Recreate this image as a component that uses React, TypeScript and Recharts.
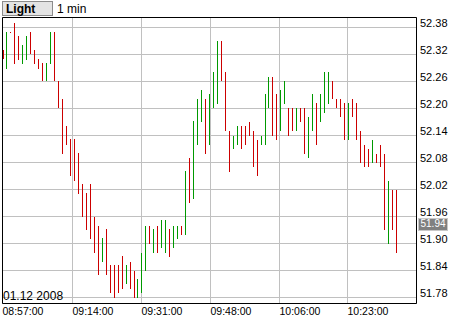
import React from "react";
import {
  ComposedChart,
  Bar,
  XAxis,
  YAxis,
  CartesianGrid,
  ReferenceArea,
  ReferenceLine,
} from "recharts";

// one bar per minute, high / low and direction (1 = up / green, 0 = down / red)
const highs = [
  52.33, 52.37, 52.37, 52.39, 52.361, 52.341, 52.361, 52.37, 52.33, 52.31,
  52.3, 52.3, 52.37, 52.37, 52.26, 52.22, 52.16, 52.132, 52.132, 52.101,
  52.032, 52.012, 52.032, 51.96, 51.94, 51.912, 51.932, 51.852, 51.852, 51.852,
  51.872, 51.852, 51.86, 51.84, 51.821, 51.88, 51.94, 51.94, 51.932, 51.94,
  51.952, 51.952, 51.932, 51.94, 51.94, 51.94, 52.061, 52.091, 52.172, 52.22,
  52.24, 52.22, 52.232, 52.28, 52.35, 52.35, 52.28, 52.15, 52.14, 52.16,
  52.16, 52.16, 52.17, 52.15, 52.13, 52.14, 52.232, 52.27, 52.27, 52.232,
  52.24, 52.26, 52.2, 52.2, 52.2, 52.2, 52.2, 52.18, 52.232, 52.212,
  52.232, 52.28, 52.28, 52.26, 52.22, 52.22, 52.212, 52.212, 52.22, 52.212,
  52.15, 52.12, 52.11, 52.13, 52.1, 52.12, 52.1, 52.04, 52.02, 52.02,
];
const lows = [
  52.309, 52.288, 52.368, 52.299, 52.308, 52.299, 52.308, 52.32, 52.299, 52.288,
  52.26, 52.26, 52.299, 52.26, 52.2, 52.1, 52.12, 52.05, 52.04, 52.01,
  51.96, 51.93, 51.91, 51.88, 51.83, 51.86, 51.83, 51.79, 51.78, 51.79,
  51.8, 51.81, 51.8, 51.78, 51.78, 51.79, 51.84, 51.9, 51.88, 51.88,
  51.89, 51.88, 51.87, 51.89, 51.91, 51.92, 51.92, 51.99, 52.0, 52.12,
  52.17, 52.1, 52.12, 52.2, 52.21, 52.26, 52.15, 52.06, 52.11, 52.12,
  52.11, 52.12, 52.14, 52.07, 52.05, 52.12, 52.12, 52.2, 52.14, 52.13,
  52.15, 52.21, 52.14, 52.15, 52.15, 52.17, 52.1, 52.09, 52.15, 52.12,
  52.17, 52.19, 52.21, 52.22, 52.2, 52.18, 52.13, 52.13, 52.18, 52.13,
  52.08, 52.07, 52.07, 52.08, 52.08, 52.07, 51.93, 51.9, 51.93, 51.88,
];
const ups = [
  0, 1, 0, 0, 0, 1, 1, 0, 0, 0,
  0, 1, 1, 0, 0, 0, 0, 0, 0, 0,
  0, 0, 0, 0, 0, 1, 0, 0, 0, 0,
  0, 1, 0, 0, 1, 1, 1, 0, 1, 0,
  1, 1, 0, 1, 1, 0, 1, 0, 1, 1,
  1, 0, 1, 1, 1, 0, 0, 0, 1, 1,
  0, 0, 0, 0, 0, 1, 1, 1, 0, 0,
  1, 1, 0, 0, 1, 0, 0, 1, 1, 0,
  1, 1, 1, 0, 0, 0, 0, 1, 0, 0,
  0, 0, 0, 1, 0, 0, 0, 1, 0, 0,
];

const timeTicks = [-0.252, 17.382, 34.763, 52.145, 69.527, 86.657];
const timeLabels = ["08:57:00", "09:14:00", "09:31:00", "09:48:00", "10:06:00", "10:23:00"];
const priceTicks = [51.78, 51.84, 51.9, 51.96, 52.02, 52.08, 52.14, 52.2, 52.26, 52.32, 52.38];
const lastPrice = 51.94;
const dateLabel = "01.12 2008";
const symbolName = "Light";
const periodName = "1 min";

const RED = "#cc0000";
const GREEN = "#009900";
const GRID = "#c0c0c0";
const FONT = "'Liberation Sans', Arial, sans-serif";

const xDomain: [number, number] = [-0.252, 104.04];
const yDomain: [number, number] = [51.76667, 52.40222];

const data = highs.map((h, i) => ({ i, range: [lows[i], h], up: ups[i] === 1 }));

const HiLoBar = (props: any) => {
  const { x, y, width, height, payload } = props;
  if (x == null || y == null || !payload) return null;
  const cx = Math.round(x + width / 2 - 0.5);
  const top = Math.round(Math.min(y, y + height));
  const bottom = Math.max(top + 1, Math.round(Math.max(y, y + height)));
  return (
    <rect
      x={cx}
      y={top}
      width={1}
      height={bottom - top}
      fill={payload.up ? GREEN : RED}
      shapeRendering="crispEdges"
    />
  );
};

const TimeTick = (props: any) => {
  const { x, y, index } = props;
  return (
    <text x={x} y={y + 11.5} textAnchor="start" fontSize={10.5} fontFamily={FONT} fill="#000">
      {timeLabels[index]}
    </text>
  );
};

const PriceTick = (props: any) => {
  const { x, y, payload } = props;
  return (
    <text x={x + 3.5} y={y - 0.5} textAnchor="start" fontSize={11} fontFamily={FONT} fill="#000">
      {payload.value.toFixed(2)}
    </text>
  );
};

const PriceTag = (props: any) => {
  const vb = props.viewBox || {};
  const right = vb.x + vb.width;
  const ly = vb.y;
  return (
    <g>
      <rect
        x={right + 2}
        y={Math.round(ly - 8) + 0.5}
        width={29}
        height={12}
        fill="#808080"
        stroke="#c8c8c8"
      />
      <text x={right + 4} y={ly + 1.5} fontSize={10} fontFamily={FONT} fill="#fff">
        {lastPrice.toFixed(2)}
      </text>
    </g>
  );
};

export default function App() {
  return (
    <div style={{ position: "absolute", left: 0, top: 0, width: 460, height: 320, background: "#fff" }}>
      <ComposedChart
        width={460}
        height={320}
        data={data}
        margin={{ top: 17.5, left: 2.5, right: 0, bottom: 0 }}
      >
        <CartesianGrid stroke={GRID} strokeWidth={1} />
        <XAxis
          type="number"
          dataKey="i"
          domain={xDomain}
          allowDataOverflow
          ticks={timeTicks}
          interval={0}
          height={16.5}
          axisLine={false}
          tickLine={false}
          tickSize={0}
          tickMargin={0}
          tick={<TimeTick />}
        />
        <YAxis
          orientation="right"
          type="number"
          domain={yDomain}
          allowDataOverflow
          ticks={priceTicks}
          interval={0}
          width={43.5}
          axisLine={false}
          tickLine={false}
          tickSize={0}
          tickMargin={0}
          tick={<PriceTick />}
        />
        <Bar dataKey="range" barSize={1} isAnimationActive={false} shape={<HiLoBar />} />
        <ReferenceArea
          x1={xDomain[0]}
          x2={xDomain[1]}
          y1={yDomain[0]}
          y2={yDomain[1]}
          fill="none"
          fillOpacity={0}
          stroke="#000"
          strokeWidth={1}
        />
        <ReferenceLine y={lastPrice} stroke="none" label={<PriceTag />} />
      </ComposedChart>
      <svg
        width={460}
        height={320}
        style={{ position: "absolute", left: 0, top: 0, pointerEvents: "none" }}
      >
        <rect x={2.5} y={1.5} width={50} height={14} fill="#e4e4e4" stroke="#8c8c8c" />
        <text x={6} y={12.5} fontSize={12} fontWeight="bold" fontFamily={FONT} fill="#000">
          {symbolName}
        </text>
        <text x={57} y={12.5} fontSize={12} fontFamily={FONT} fill="#000">
          {periodName}
        </text>
        <text x={3} y={300} fontSize={12} fontFamily={FONT} fill="#000">
          {dateLabel}
        </text>
      </svg>
    </div>
  );
}
